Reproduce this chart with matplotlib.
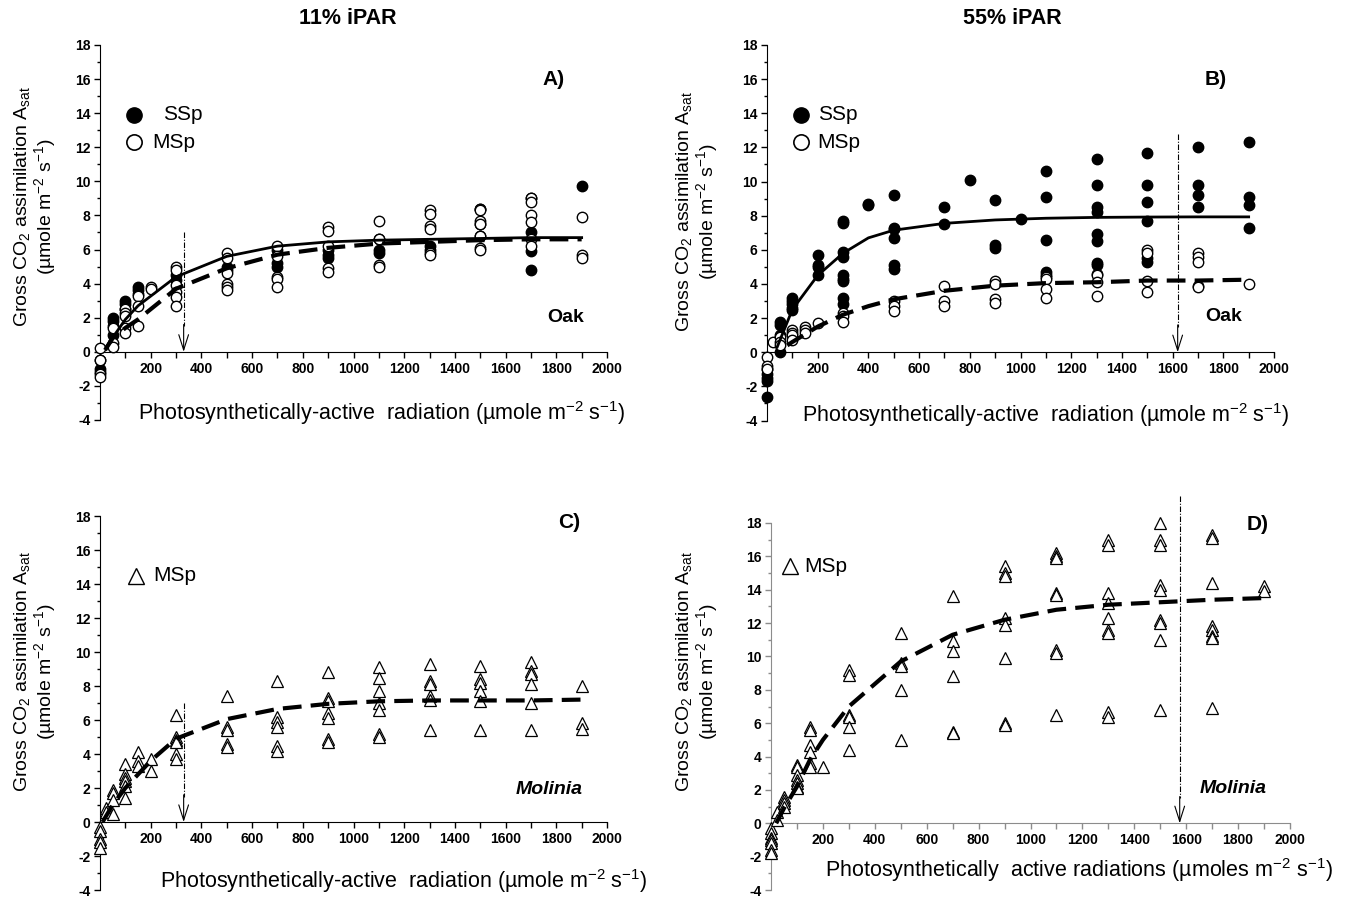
import numpy as np
import matplotlib
matplotlib.use('Agg')
import matplotlib.pyplot as plt
from matplotlib.ticker import MultipleLocator

plt.rcParams['font.family'] = ['Liberation Sans', 'DejaVu Sans']
plt.rcParams['mathtext.fontset'] = 'custom'
plt.rcParams['mathtext.rm'] = 'Liberation Sans'
plt.rcParams['mathtext.it'] = 'Liberation Sans:italic'
plt.rcParams['mathtext.bf'] = 'Liberation Sans:bold'

# ---- Panel A: oak, 11% iPAR ----
a_ssp_x = [0, 50, 100, 150, 300, 500, 700, 900, 1100, 1300, 1500, 1700, 1900]
a_ssp_y = [[-1.0, -0.5, -1.2], [2.0, 1.8, 1.5, 1.0], [3.0, 2.8, 2.5], [3.8, 3.6, 3.4],
           [4.5, 4.2], [5.0, 4.8], [6.0, 5.2, 5.0], [6.0, 5.7, 5.5], [6.6, 6.0, 5.8],
           [6.2, 6.0], [8.4, 7.5, 6.8], [9.0, 7.0, 5.9, 4.8], [9.7]]
a_msp_x = [0, 50, 100, 150, 200, 300, 500, 700, 900, 1100, 1300, 1500, 1700, 1900]
a_msp_y = [[0.2, -0.5, -1.3, -1.5], [1.4, 0.5, 0.3], [2.5, 2.3, 2.1, 1.4, 1.1],
           [3.3, 2.7, 1.5], [3.8, 3.7], [5.0, 4.8, 3.9, 3.5, 3.2, 2.7],
           [5.8, 5.5, 4.6, 4.0, 3.8, 3.6], [6.2, 5.6, 4.4, 4.3, 3.8],
           [7.3, 7.1, 6.2, 4.9, 4.7], [7.7, 6.6, 5.1, 5.0], [8.3, 8.1, 7.4, 7.2, 5.8, 5.7],
           [8.4, 8.3, 7.7, 7.5, 6.8, 6.1, 6.0], [9.0, 8.8, 8.0, 7.6, 6.6, 6.2], [7.9, 5.7, 5.5]]
a_fit_ssp_x = [25, 100, 150, 300, 500, 700, 900, 1100, 1300, 1500, 1700, 1900]
a_fit_ssp_y = [0.3, 1.9, 2.7, 4.4, 5.6, 6.2, 6.45, 6.55, 6.6, 6.65, 6.7, 6.7]
a_fit_msp_x = [20, 50, 100, 150, 300, 500, 700, 900, 1100, 1300, 1500, 1700, 1900]
a_fit_msp_y = [0.1, 0.8, 1.4, 1.9, 3.7, 4.9, 5.7, 6.1, 6.35, 6.45, 6.55, 6.6, 6.6]
a_arrow_x, a_arrow_top = 330, 7.0

# ---- Panel B: oak, 55% iPAR ----
b_ssp_x = [0, 50, 100, 200, 300, 400, 500, 700, 800, 900, 1000, 1100, 1300, 1500, 1700, 1900]
b_ssp_y = [[-2.6, -1.7, -1.5, -1.3, -1.0], [1.8, 1.6, 1.0, 0.0], [3.2, 3.0, 2.8, 2.6, 2.5],
           [5.7, 5.1, 5.0, 4.5], [7.7, 7.6, 5.9, 5.6, 4.5, 4.3, 4.2, 3.2, 2.8], [8.7, 8.6],
           [9.2, 7.3, 7.2, 6.7, 5.1, 4.9], [8.5, 7.5], [10.1], [8.9, 6.3, 6.1], [7.8],
           [10.6, 9.1, 6.6, 4.7, 4.5], [11.3, 9.8, 8.5, 8.2, 6.9, 6.5, 5.2, 5.1],
           [11.7, 9.8, 8.8, 7.7, 5.5, 5.3], [12.0, 9.8, 9.2, 8.5], [12.3, 9.1, 8.6, 7.3]]
b_msp_x = [0, 25, 50, 100, 150, 200, 300, 500, 700, 900, 1100, 1300, 1500, 1700, 1900]
b_msp_y = [[-0.3, -0.8, -1.0], [0.6], [0.9, 0.6, 0.4], [1.3, 1.1, 1.0, 0.7], [1.5, 1.3, 1.1],
           [1.7], [2.3, 2.1, 1.8], [3.0, 2.7, 2.4], [3.9, 3.0, 2.7], [4.2, 4.0, 3.1, 2.9],
           [4.4, 4.3, 3.7, 3.2], [4.6, 4.5, 4.1, 3.3], [6.0, 5.8, 4.2, 3.5],
           [5.8, 5.6, 5.3, 3.9, 3.8], [4.0]]
b_fit_ssp_x = [40, 100, 200, 300, 400, 500, 700, 900, 1100, 1300, 1500, 1700, 1900]
b_fit_ssp_y = [0.3, 2.5, 4.5, 5.8, 6.7, 7.15, 7.55, 7.75, 7.85, 7.9, 7.92, 7.93, 7.93]
b_fit_msp_x = [80, 100, 200, 300, 400, 500, 700, 900, 1100, 1300, 1500, 1700, 1900]
b_fit_msp_y = [0.4, 0.6, 1.5, 2.2, 2.7, 3.1, 3.6, 3.9, 4.05, 4.1, 4.2, 4.2, 4.25]
b_arrow_x, b_arrow_top = 1620, 12.8

# ---- Panel C: Molinia, 11% iPAR ----
c_msp_x = [0, 25, 50, 100, 150, 200, 300, 500, 700, 900, 1100, 1300, 1500, 1700, 1900]
c_msp_y = [[-0.3, -0.5, -1.0, -1.2, -1.5], [0.8, 0.6], [1.9, 1.7, 1.3, 0.5],
           [3.4, 2.8, 2.6, 2.4, 2.1, 1.4], [4.1, 3.6, 3.3], [3.7, 3.0],
           [6.3, 5.0, 4.8, 4.7, 4.0, 3.7], [7.4, 5.6, 5.4, 4.6, 4.4],
           [8.3, 6.2, 5.9, 5.6, 4.5, 4.2], [8.8, 7.3, 7.1, 6.4, 6.1, 4.9, 4.7],
           [9.1, 8.5, 7.7, 7.0, 6.6, 5.2, 5.0], [9.3, 8.3, 8.1, 7.4, 7.2, 5.4],
           [9.2, 8.4, 8.2, 7.7, 7.1, 5.4], [9.4, 8.9, 8.7, 8.1, 7.0, 5.4], [8.0, 5.8, 5.5]]
c_fit_x = [10, 50, 100, 150, 200, 300, 500, 700, 900, 1100, 1300, 1500, 1700, 1900]
c_fit_y = [0.0, 1.0, 2.0, 2.8, 3.6, 4.9, 6.05, 6.65, 6.95, 7.1, 7.15, 7.15, 7.15, 7.2]
c_arrow_x, c_arrow_top = 330, 7.0

# ---- Panel D: Molinia, 55% iPAR ----
d_msp_x = [0, 25, 50, 100, 150, 200, 300, 500, 700, 900, 1100, 1300, 1500, 1700, 1900]
d_msp_y = [[-0.3, -0.6, -0.9, -1.0, -1.2, -1.6, -1.8], [0.7, 0.2], [1.6, 1.4, 1.2, 1.0],
           [3.5, 3.4, 2.9, 2.6, 2.4, 2.2, 2.1], [5.8, 5.6, 4.7, 4.3, 3.6, 3.4], [3.4],
           [9.2, 8.9, 6.5, 6.4, 5.8, 4.4], [11.4, 9.6, 9.4, 8.0, 5.0],
           [13.6, 10.9, 10.3, 8.8, 5.5, 5.4], [15.4, 15.0, 14.8, 12.3, 11.9, 9.9, 6.0, 5.9],
           [16.2, 16.0, 15.9, 13.8, 13.7, 10.4, 10.2, 6.5],
           [17.0, 16.7, 13.8, 13.2, 12.3, 11.6, 11.4, 6.7, 6.4],
           [18.0, 17.0, 16.7, 14.3, 14.0, 12.2, 12.0, 11.0, 6.8],
           [17.3, 17.1, 14.4, 11.8, 11.6, 11.2, 11.1, 6.9], [14.2, 13.9]]
d_fit_x = [20, 50, 100, 150, 200, 300, 500, 700, 900, 1100, 1300, 1500, 1700, 1900]
d_fit_y = [0.0, 0.9, 2.2, 3.8, 5.0, 7.0, 9.7, 11.3, 12.2, 12.8, 13.1, 13.25, 13.4, 13.5]
d_arrow_x, d_arrow_top = 1575, 19.6

ylab = 'Gross CO$_2$ assimilation A$_{\\mathrm{sat}}$\n(µmole m$^{-2}$ s$^{-1}$)'
xlab = 'Photosynthetically-active  radiation (µmole m$^{-2}$ s$^{-1}$)'
xlab_d = 'Photosynthetically  active radiations (µmoles m$^{-2}$ s$^{-1}$)'

W, H = 1352, 898
fig = plt.figure(figsize=(W / 100, H / 100), dpi=100)


def px_axes(left, right, top, bottom):
    return fig.add_axes([left / W, 1 - bottom / H, (right - left) / W, (bottom - top) / H])


def setup(ax, color='black'):
    ax.set_xlim(0, 2000)
    ax.set_ylim(-4, 18)
    ax.patch.set_visible(False)
    ax.spines['top'].set_visible(False)
    ax.spines['right'].set_visible(False)
    ax.spines['bottom'].set_position(('data', 0))
    ax.spines['left'].set_color(color)
    ax.spines['bottom'].set_color(color)
    ax.set_xticks(range(0, 2001, 200))
    ax.set_xticklabels([str(v) for v in range(0, 2001, 200)], fontweight='bold', fontsize=10)
    ax.xaxis.set_minor_locator(MultipleLocator(100))
    ax.set_yticks(range(-4, 19, 2))
    ax.set_yticklabels([str(v) for v in range(-4, 19, 2)], fontweight='bold', fontsize=10)
    ax.yaxis.set_minor_locator(MultipleLocator(1))
    ax.tick_params(which='major', direction='out', length=4, width=1, color=color, pad=3)
    ax.tick_params(which='minor', direction='out', length=4, width=1, color=color)
    ax.tick_params(axis='y', which='minor', length=2.5)


def points(ax, xs, ys, **kw):
    px = [x for x, col in zip(xs, ys) for _ in col]
    py = [v for col in ys for v in col]
    ax.plot(px, py, ls='none', clip_on=False, **kw)


def arrow(ax, x, top):
    ax.plot([x, x], [top, 1.5], color='black', lw=0.8, ls=(0, (5, 1.5, 1, 1.5)), clip_on=False, zorder=2)
    ax.annotate('', xy=(x, 0), xytext=(x, 1.6),
                arrowprops=dict(arrowstyle='->, head_length=1.1, head_width=0.35', lw=0.8,
                                color='black', shrinkA=0, shrinkB=0))


filled = dict(marker='o', ms=7.5, mfc='black', mec='black', mew=1, zorder=3)
opened = dict(marker='o', ms=7.5, mfc='white', mec='black', mew=1, zorder=4)
tri = dict(marker='^', ms=8, mfc='white', mec='black', mew=0.9, zorder=3)
solid = dict(color='black', lw=2, zorder=5, clip_on=False)
dashed = dict(color='black', lw=3, ls=(0, (4.5, 2.2)), zorder=5, clip_on=False)

# A
ax = px_axes(100, 607, 45, 420)
setup(ax)
points(ax, a_ssp_x, a_ssp_y, **filled)
points(ax, a_msp_x, a_msp_y, **opened)
ax.plot(a_fit_ssp_x, a_fit_ssp_y, **solid)
ax.plot(a_fit_msp_x, a_fit_msp_y, **dashed)
arrow(ax, a_arrow_x, a_arrow_top)
ax.plot([135], [13.9], marker='o', ms=11, mfc='black', mec='black')
ax.plot([135], [12.3], marker='o', ms=11, mfc='white', mec='black', mew=1.2)
ax.text(250, 13.9, 'SSp', fontsize=15, va='center')
ax.text(205, 12.3, 'MSp', fontsize=15, va='center')
ax.text(1790, 16.0, 'A)', fontsize=15, fontweight='bold', ha='center', va='center')
ax.text(1835, 2.0, 'Oak', fontsize=14, fontweight='bold', ha='center', va='center')
ax.text(1113, -3.6, xlab, fontsize=15.5, ha='center', va='center', clip_on=False)

# B
ax = px_axes(767, 1274, 45, 420.5)
setup(ax)
points(ax, b_ssp_x, b_ssp_y, **filled)
points(ax, b_msp_x, b_msp_y, **opened)
ax.plot(b_fit_ssp_x, b_fit_ssp_y, **solid)
ax.plot(b_fit_msp_x, b_fit_msp_y, **dashed)
arrow(ax, b_arrow_x, b_arrow_top)
ax.plot([134], [13.9], marker='o', ms=11, mfc='black', mec='black')
ax.plot([134], [12.3], marker='o', ms=11, mfc='white', mec='black', mew=1.2)
ax.text(200, 13.9, 'SSp', fontsize=15, va='center')
ax.text(200, 12.3, 'MSp', fontsize=15, va='center')
ax.text(1768, 16.0, 'B)', fontsize=15, fontweight='bold', ha='center', va='center')
ax.text(1800, 2.1, 'Oak', fontsize=14, fontweight='bold', ha='center', va='center')
ax.text(1100, -3.7, xlab, fontsize=15.5, ha='center', va='center', clip_on=False)

# C
ax = px_axes(100, 607, 516, 890)
setup(ax)
points(ax, c_msp_x, c_msp_y, **tri)
ax.plot(c_fit_x, c_fit_y, **dashed)
arrow(ax, c_arrow_x, c_arrow_top)
ax.plot([143], [14.5], marker='^', ms=12, mfc='white', mec='black', mew=1)
ax.text(210, 14.5, 'MSp', fontsize=15, va='center')
ax.text(1852, 17.6, 'C)', fontsize=15, fontweight='bold', ha='center', va='center')
ax.text(1770, 1.9, 'Molinia', fontsize=14, fontweight='bold', style='italic', ha='center', va='center')
ax.text(1197, -3.45, xlab, fontsize=15.5, ha='center', va='center', clip_on=False)

# D
ax = px_axes(771, 1290, 523, 890)
setup(ax, color='#8c8c8c')
points(ax, d_msp_x, d_msp_y, **tri)
ax.plot(d_fit_x, d_fit_y, **dashed)
arrow(ax, d_arrow_x, d_arrow_top)
ax.plot([72], [15.4], marker='^', ms=12, mfc='white', mec='black', mew=1)
ax.text(130, 15.4, 'MSp', fontsize=15, va='center')
ax.text(1875, 17.9, 'D)', fontsize=15, fontweight='bold', ha='center', va='center')
ax.text(1780, 2.1, 'Molinia', fontsize=14, fontweight='bold', style='italic', ha='center', va='center')
ax.text(1186, -2.8, xlab_d, fontsize=15.5, ha='center', va='center', clip_on=False)

# y labels and column titles
for cx, cy in [(35, 207), (697, 212), (35, 672), (697, 672)]:
    fig.text(cx / W, 1 - cy / H, ylab, rotation=90, fontsize=14, ha='center', va='center',
             multialignment='center', linespacing=1.05)
fig.text(348 / W, 1 - 18 / H, '11% iPAR', fontsize=15.5, fontweight='bold', ha='center', va='center')
fig.text(1012 / W, 1 - 18 / H, '55% iPAR', fontsize=15.5, fontweight='bold', ha='center', va='center')

fig.savefig('out.png', dpi=100)
